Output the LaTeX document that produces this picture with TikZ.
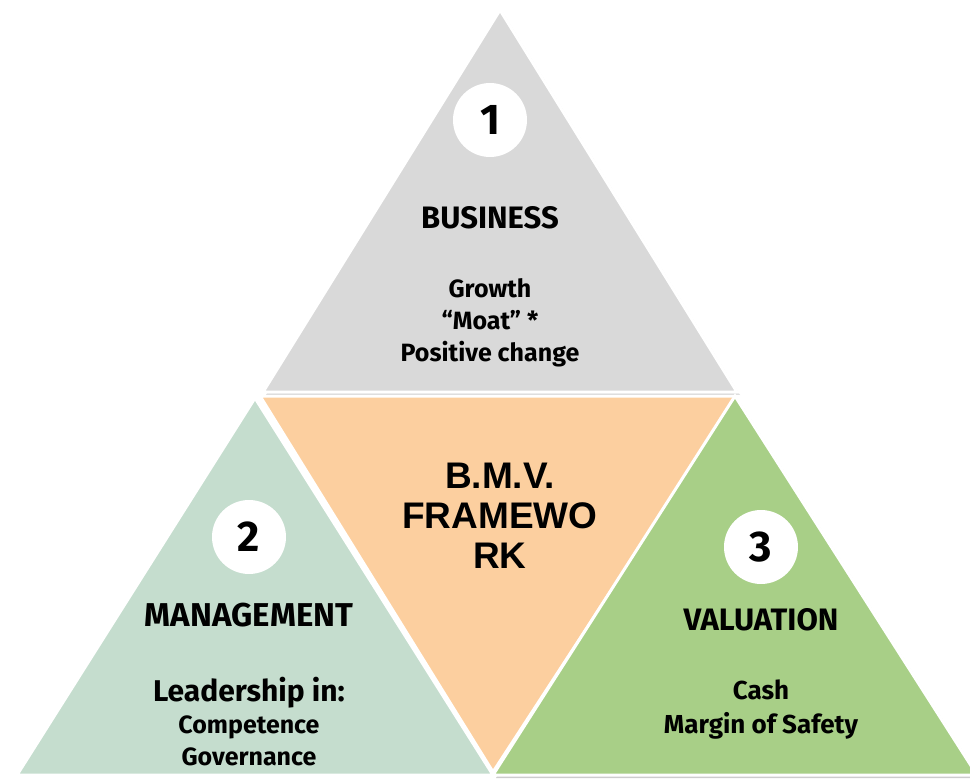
\documentclass[tikz,border=0pt]{standalone}
\usepackage{fontspec}
\setmainfont{Fira Sans}
\newfontfamily\arialfont{Liberation Sans}
\usetikzlibrary{positioning, shadows}

\definecolor{bizgray}{HTML}{D9D9D9}
\definecolor{frameorange}{HTML}{FCCF9F}
\definecolor{mgmtgreen}{HTML}{C5DDCE}
\definecolor{valgreen}{HTML}{A8CF87}

\tikzset{
  tri/.style={draw=white, line width=3pt, line join=miter},
  shadowed/.style={drop shadow={shadow xshift=3pt, shadow yshift=-3pt, opacity=0.2, fill=black}},
  num/.style={circle, fill=white, minimum size=74pt, inner sep=0pt, font=\fontsize{43}{43}\selectfont\bfseries},
  head/.style={font=\fontsize{31}{37}\selectfont\bfseries},
  body/.style={align=center, font=\fontsize{25}{32}\selectfont\bfseries},
  frame/.style={align=center, font=\arialfont\fontsize{37}{40}\selectfont\bfseries},
}

\begin{document}
\begin{tikzpicture}[x=1pt,y=-1pt,node distance=100pt,on grid]
	\useasboundingbox (0,0) rectangle (970,781);
	% the four triangles
	\filldraw[tri, shadowed, fill=bizgray] (500,10) -- (263,392) -- (737,392) -- cycle;
	\filldraw[tri, fill=frameorange] (260,396) -- (738,396) -- (493,772) -- cycle;
	\filldraw[tri, fill=mgmtgreen] (255,398) -- (17,775) -- (493,775) -- cycle;
	\filldraw[tri, shadowed, fill=valgreen] (735,396) -- (493,775) -- (977,775) -- cycle;

	\node[frame] (bmv) at (500,516) {B.M.V.\\ FRAMEWO\\ RK};

	\node[num] (n1) at (490,120) {1};
	\node[head] (business) [below=98pt of n1] {BUSINESS};
	\node[body] (bizlist) [below=105pt of business] {Growth\\ “Moat” *\\ Positive change};

	\node[num] (n2) at (249,537) {2};
	\node[head, font=\fontsize{33}{37}\selectfont\bfseries] (management) [below=78pt of n2] {MANAGEMENT};
	\node[body] (mgmtlist) [below=107pt of management] {{\fontsize{30}{33}\selectfont Leadership in:}\\ Competence\\ Governance};

	\node[num] (n3) at (761,547) {3};
	\node[head] (valuation) [below=73pt of n3] {VALUATION};
	\node[body] (vallist) [below=90pt of valuation, font=\fontsize{26}{34}\selectfont\bfseries] {Cash\\ Margin of Safety};
\end{tikzpicture}
\end{document}
